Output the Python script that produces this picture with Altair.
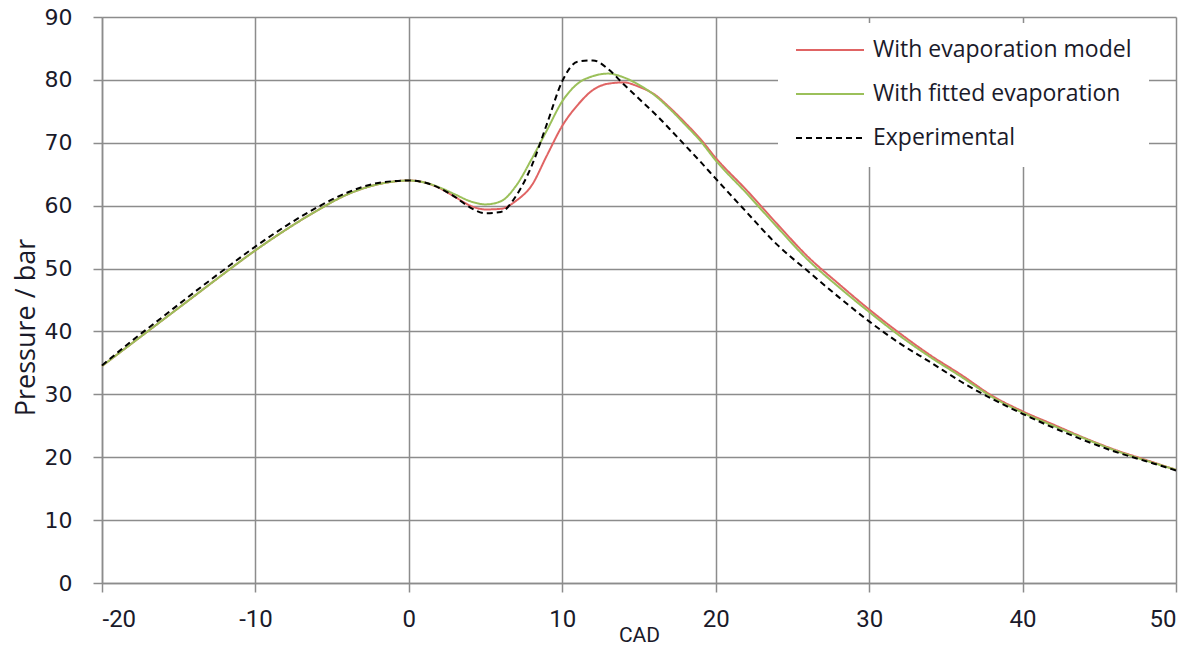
import altair as alt
import pandas as pd

# Crank angle (CAD)
cad = [-20, -18, -16, -14, -12, -10, -8, -6, -4, -2, 0,
       1, 2, 3, 4, 5, 6, 7, 8, 9, 10,
       11, 12, 13, 14, 15, 16, 17, 18, 19, 20,
       22, 24, 26, 28, 30, 32, 34, 36, 38, 40, 42, 44, 46, 48, 50]

# Pressure / bar
p_model = [34.5, 38.2, 41.9, 45.6, 49.3, 52.9, 56.2, 59.2, 61.8, 63.4, 64.0,
           63.7, 62.8, 61.4, 60.0, 59.4, 59.5, 60.8, 63.2, 68.0, 72.7,
           76.0, 78.4, 79.4, 79.6, 78.9, 77.7, 75.6, 73.2, 70.6, 67.6,
           62.5, 57.1, 51.9, 47.6, 43.5, 39.7, 36.2, 33.1, 29.8, 27.3, 25.2, 23.1, 21.2, 19.6, 18.0]

p_fitted = [34.5, 38.2, 41.9, 45.6, 49.3, 52.9, 56.2, 59.2, 61.8, 63.4, 64.0,
            63.7, 62.9, 61.8, 60.7, 60.2, 60.7, 63.2, 67.4, 72.0, 76.6,
            79.4, 80.6, 81.0, 80.4, 79.2, 77.6, 75.4, 72.9, 70.3, 67.2,
            62.0, 56.6, 51.4, 47.1, 43.1, 39.3, 35.9, 32.8, 29.6, 27.1, 25.0, 23.0, 21.1, 19.5, 18.0]

p_exp = [34.6, 38.6, 42.4, 46.2, 49.9, 53.5, 56.8, 59.7, 62.1, 63.6, 64.0,
         63.7, 62.8, 61.4, 59.7, 58.8, 59.0, 61.6, 66.3, 73.0, 79.8,
         82.9, 83.1, 81.7, 79.3, 77.0, 74.7, 72.2, 69.6, 67.0, 64.3,
         59.0, 53.8, 49.6, 45.5, 41.6, 38.1, 35.1, 32.0, 29.3, 26.9, 24.7, 22.7, 20.9, 19.4, 17.9]

series = ["With evaporation model", "With fitted evaporation", "Experimental"]
colors = ["#E06464", "#9BC05A", "#000000"]
dashes = [[1, 0], [1, 0], [6, 4]]
x_ticks = [-20, -10, 0, 10, 20, 30, 40, 50]
y_ticks = [0, 10, 20, 30, 40, 50, 60, 70, 80, 90]

rows = []
for name, vals in zip(series, [p_model, p_fitted, p_exp]):
    for x, y in zip(cad, vals):
        rows.append({"CAD": x, "Pressure": y, "Series": name})
df = pd.DataFrame(rows)

grid_col = "#8c8c8c"
text_col = "#1a1a2a"

legend = alt.Legend(
    title=None, orient="none", legendX=676, legendY=6,
    fillColor="white", padding=17, symbolType="stroke",
    symbolSize=4624, symbolStrokeWidth=2, clipHeight=20, rowPadding=21,
    labelFont="Open Sans", labelFontSize=23, labelColor=text_col,
    labelOffset=8, symbolOffset=0, labelLimit=400,
)

chart = alt.Chart(df).mark_line(strokeWidth=2, interpolate="monotone").encode(
    x=alt.X("CAD:Q", scale=alt.Scale(domain=[-20, 50], nice=False),
            axis=alt.Axis(values=x_ticks, title="CAD", grid=True,
                          labelExpr="(datum.value < 0 ? '-' : '') + abs(datum.value)",
                          gridColor=grid_col, gridWidth=1.5,
                          domainColor=grid_col, domainWidth=1.5,
                          tickColor=grid_col, tickWidth=1.5, tickSize=9,
                          labelFont="Roboto", labelFontSize=24, labelColor=text_col,
                          labelPadding=15,
                          titleFont="Roboto", titleFontSize=21, titleFontWeight="normal",
                          titleColor=text_col, titleY=41)),
    y=alt.Y("Pressure:Q", scale=alt.Scale(domain=[0, 90], nice=False),
            axis=alt.Axis(values=y_ticks, title="Pressure / bar", grid=True,
                          gridColor=grid_col, gridWidth=1.5,
                          domainColor=grid_col, domainWidth=1.5,
                          tickColor=grid_col, tickWidth=1.5, tickSize=9,
                          labelFont="DejaVu Sans", labelFontSize=22, labelColor=text_col,
                          labelPadding=21,
                          titleFont="Open Sans", titleFontSize=27, titleFontWeight="normal",
                          titleColor=text_col, titleX=-68, titleY=310,
                          titleBaseline="alphabetic")),
    color=alt.Color("Series:N", scale=alt.Scale(domain=series, range=colors), legend=legend),
    strokeDash=alt.StrokeDash("Series:N", scale=alt.Scale(domain=series, range=dashes), legend=legend),
    order=alt.Order("CAD:Q"),
).properties(
    width=1074, height=566,
    autosize=alt.AutoSizeParams(type="none"),
    padding={"left": 94, "top": 9, "right": 12, "bottom": 60},
).configure_view(strokeWidth=0)

chart.save("out.html", embed_options={"renderer": "svg", "actions": False})
